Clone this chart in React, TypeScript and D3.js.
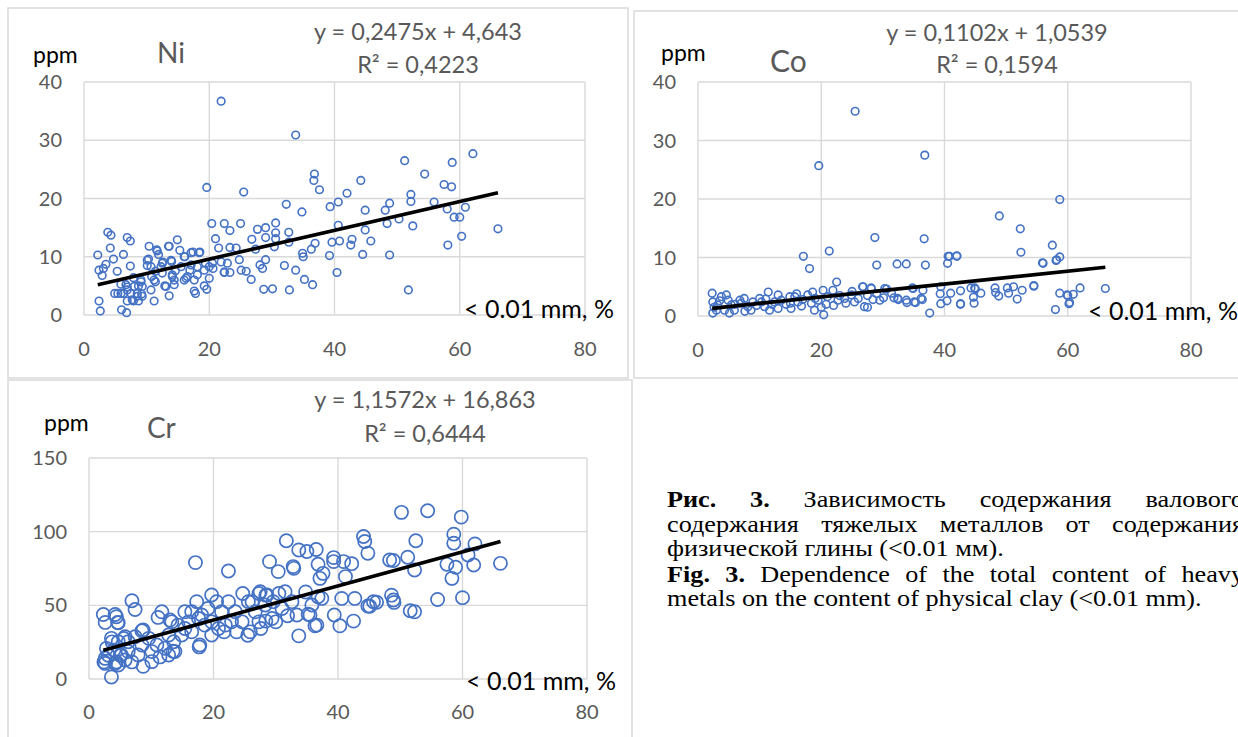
import { useEffect, useRef } from "react";
import * as d3 from "d3";

// clay content (< 0.01 mm, %) vs element content (ppm)
const niPoints: [number, number][] = [
  [21.9, 36.7], [33.8, 30.9], [62.1, 27.7], [51.2, 26.5], [58.8, 26.2], [54.4, 24.2], [36.8, 24.2], [36.7, 23.1],
  [44.2, 23.1], [57.5, 22.4], [58.7, 22.0], [19.6, 21.9], [37.6, 21.5], [25.5, 21.1], [42.0, 20.9], [52.2, 20.7],
  [52.2, 19.5], [55.9, 19.4], [40.6, 19.4], [48.8, 19.2], [32.3, 19.0], [39.3, 18.6], [60.9, 18.5], [58.0, 18.2],
  [48.1, 18.0], [44.9, 18.0], [34.8, 17.7], [59.1, 16.8], [60.0, 16.8], [50.3, 16.5], [20.4, 15.7], [22.4, 15.7],
  [25.0, 15.7], [30.6, 15.8], [48.4, 15.7], [40.6, 15.4], [52.5, 15.3], [29.0, 15.0], [27.7, 14.7], [44.9, 14.6],
  [66.1, 14.8], [23.3, 14.5], [3.8, 14.2], [4.3, 13.7], [32.7, 14.2], [30.6, 14.1], [6.9, 13.3], [7.4, 12.7],
  [14.9, 12.9], [21.0, 13.1], [26.8, 13.0], [29.0, 13.3], [40.8, 12.7], [42.8, 13.0], [45.8, 12.7], [60.3, 13.5],
  [30.6, 13.1], [32.7, 12.5], [39.6, 12.5], [10.4, 11.8], [13.5, 11.8], [21.5, 11.5], [23.3, 11.6], [24.3, 11.5],
  [36.9, 12.3], [42.6, 12.0], [58.1, 12.0], [27.4, 11.3], [30.4, 11.7], [4.2, 11.5], [36.3, 11.3], [11.6, 11.2],
  [15.3, 11.1], [2.2, 10.3], [6.3, 10.4], [34.9, 10.6], [35.0, 10.0], [39.2, 10.2], [44.5, 10.4], [48.8, 10.3],
  [11.9, 10.4], [17.4, 10.8], [18.5, 10.8], [16.1, 10.0], [24.8, 9.5], [29.0, 9.5], [4.7, 9.6], [10.3, 9.6],
  [13.9, 9.4], [3.5, 8.7], [7.4, 8.4], [10.1, 8.5], [12.5, 8.9], [19.4, 8.9], [28.1, 8.6], [32.0, 8.5],
  [2.4, 7.7], [3.1, 8.0], [5.3, 7.5], [11.4, 7.5], [14.6, 7.6], [16.9, 7.7], [20.6, 8.0], [25.1, 7.7],
  [28.5, 8.0], [33.8, 7.7], [40.4, 7.3], [2.9, 6.8], [22.4, 7.3], [23.3, 7.3], [25.9, 7.5], [7.9, 6.4],
  [10.8, 6.6], [14.1, 6.6], [16.3, 6.3], [20.0, 6.3], [26.7, 6.1], [18.1, 6.9], [35.2, 6.1], [9.1, 5.7],
  [11.4, 5.7], [5.9, 5.3], [6.9, 4.8], [12.9, 5.0], [14.4, 5.2], [19.2, 5.0], [8.7, 5.0], [36.5, 5.2],
  [19.6, 4.4], [28.7, 4.4], [30.1, 4.5], [32.8, 4.3], [51.8, 4.3], [17.6, 4.1], [17.8, 3.7], [4.9, 3.7],
  [5.4, 3.7], [6.3, 3.7], [7.5, 3.7], [9.2, 3.6], [8.5, 3.2], [13.6, 3.3], [7.9, 2.4], [8.7, 2.4],
  [6.9, 2.4], [11.2, 2.4], [2.4, 2.4], [2.6, 0.7], [6.0, 0.9], [6.8, 0.4], [13.6, 11.8], [11.7, 11.0],
  [10.1, 9.4], [12.6, 9.1], [14.0, 9.2], [16.0, 10.0], [17.1, 10.7], [18.4, 10.7], [15.5, 8.3], [17.1, 8.6],
  [18.1, 8.3], [19.2, 7.7], [20.0, 8.3], [20.5, 8.9], [16.5, 6.6], [17.6, 6.0], [16.0, 6.0], [14.1, 6.9],
  [12.5, 7.2], [11.2, 6.0], [9.1, 6.0], [8.0, 4.9], [6.9, 4.3], [5.9, 3.7], [8.5, 3.7], [9.3, 3.2],
  [7.7, 2.6], [9.3, 4.9], [6.7, 5.2], [10.7, 4.3], [13.1, 4.9], [14.4, 6.0], [12.3, 8.3], [10.7, 8.3],
  [21.9, 9.1], [22.9, 8.9], [22.4, 7.4],
];

const coPoints: [number, number][] = [
  [25.5, 35.0], [36.8, 27.5], [19.6, 25.7], [58.7, 19.9], [48.9, 17.1], [52.3, 14.9], [28.7, 13.4], [36.7, 13.2],
  [57.5, 12.1], [21.3, 11.1], [52.4, 10.9], [17.1, 10.2], [40.8, 10.2], [42.0, 10.2], [58.7, 10.1], [58.2, 9.6],
  [18.1, 8.1], [29.0, 8.7], [32.3, 8.9], [33.8, 8.9], [36.9, 8.7], [40.5, 9.0], [56.0, 9.0], [22.5, 5.8],
  [26.7, 5.0], [28.1, 4.8], [30.6, 4.6], [48.2, 4.8], [50.2, 4.8], [51.2, 5.0], [54.5, 5.1], [62.0, 4.8],
  [66.1, 4.7], [44.3, 4.8], [44.9, 4.8], [34.8, 4.8], [39.4, 5.0], [52.6, 4.4], [42.6, 4.3], [45.9, 3.9],
  [48.3, 4.0], [48.8, 3.4], [58.7, 3.9], [60.9, 3.7], [60.0, 3.5], [39.3, 3.8], [41.0, 3.9], [44.7, 3.2],
  [51.8, 2.9], [36.4, 2.8], [33.9, 2.3], [35.3, 2.3], [39.4, 2.1], [40.4, 2.6], [42.6, 2.0], [44.8, 2.2],
  [60.2, 2.1], [58.0, 1.1], [37.6, 0.5], [20.4, 0.2], [27.5, 1.5], [30.1, 3.1], [31.8, 3.1], [32.5, 2.8],
  [28.4, 2.8], [2.3, 3.9], [2.4, 2.4], [2.4, 0.5], [3.0, 1.0], [3.8, 3.3], [4.6, 3.6], [4.9, 2.7],
  [5.4, 1.9], [4.3, 1.0], [6.8, 2.7], [7.0, 2.2], [5.9, 1.0], [8.1, 1.6], [8.6, 1.0], [10.0, 3.0],
  [10.3, 2.4], [11.4, 4.1], [10.8, 1.6], [12.4, 2.4], [13.5, 2.7], [14.3, 2.0], [13.0, 1.3], [14.9, 3.3],
  [15.7, 3.3], [16.2, 2.4], [16.8, 1.7], [17.8, 3.6], [18.6, 4.1], [18.4, 2.2], [19.5, 2.7], [20.3, 4.4],
  [20.8, 2.0], [21.9, 4.4], [22.7, 2.7], [23.8, 3.0], [24.9, 3.6], [25.4, 2.4], [26.8, 5.0], [27.0, 1.6],
  [28.1, 4.7], [29.5, 2.7], [30.3, 4.7], [31.4, 3.9], [32.4, 3.0], [33.8, 2.7], [34.9, 4.7], [35.1, 2.4],
  [36.2, 3.0], [36.5, 4.4], [13.0, 3.6], [8.9, 2.4], [3.2, 1.9], [5.1, 0.5], [7.6, 0.8], [11.6, 1.0],
  [15.1, 1.3], [18.9, 1.0], [6.0, 2.0], [9.5, 1.8], [12.0, 2.0], [15.0, 2.2], [17.0, 2.8], [19.0, 3.0],
  [21.0, 3.3], [23.0, 3.5], [24.0, 2.2], [26.0, 3.0], [27.5, 3.5], [29.0, 3.8], [2.6, 1.5], [3.5, 2.6],
  [7.5, 3.0], [11.0, 2.9], [16.0, 3.8], [20.0, 1.5], [22.0, 1.8], [25.0, 4.2], [40.6, 10.2], [42.0, 10.3],
  [55.9, 9.1], [58.1, 9.5], [45.0, 4.6], [50.4, 3.9], [54.5, 5.2], [59.9, 3.6], [60.3, 2.3], [42.6, 2.1],
];

const crPoints: [number, number][] = [
  [50.2, 113.1], [54.4, 114.2], [59.8, 109.9], [44.1, 96.7], [44.3, 93.3], [44.8, 85.4], [31.7, 93.8], [52.5, 93.8],
  [58.6, 98.3], [58.6, 92.2], [62.0, 91.7], [60.9, 84.2], [33.7, 87.6], [35.0, 86.5], [36.5, 87.9], [51.2, 82.6],
  [39.3, 82.4], [39.3, 79.7], [40.9, 79.7], [42.2, 78.3], [48.3, 80.8], [48.9, 80.4], [66.1, 78.5], [29.0, 79.7],
  [17.1, 79.0], [22.4, 73.3], [30.4, 72.9], [32.8, 76.3], [32.9, 75.1], [36.8, 77.9], [37.6, 71.7], [37.1, 68.3],
  [41.2, 69.5], [57.5, 77.9], [58.9, 75.8], [58.3, 68.3], [52.3, 74.0], [61.8, 77.4], [6.9, 53.1], [7.4, 47.2],
  [2.3, 43.8], [2.6, 38.4], [4.2, 43.8], [4.6, 38.4], [24.7, 58.0], [27.3, 58.0], [28.4, 56.9], [30.5, 58.0],
  [34.8, 59.1], [36.8, 55.8], [40.6, 54.7], [42.7, 54.7], [45.7, 52.4], [44.8, 49.5], [48.6, 56.9], [48.9, 53.6],
  [56.0, 54.0], [60.0, 55.2], [51.6, 46.3], [52.3, 45.6], [39.4, 43.4], [42.5, 39.3], [40.3, 36.1], [36.3, 36.1],
  [35.2, 44.0], [33.7, 29.3], [31.9, 42.9], [30.0, 38.8], [28.4, 39.3], [27.6, 34.3], [25.5, 29.7], [21.7, 32.0],
  [17.7, 21.8], [8.5, 32.7], [8.7, 8.6], [3.6, 1.4], [2.4, 11.6], [3.1, 16.1], [4.0, 19.5], [5.0, 16.1],
  [4.4, 11.6], [5.6, 27.5], [3.7, 25.2], [11.1, 41.8], [13.0, 40.0], [6.9, 11.6], [11.4, 15.0], [13.5, 18.8],
  [4.4, 42.3], [4.7, 38.2], [3.6, 27.6], [2.8, 20.8], [4.7, 25.3], [5.8, 28.7], [7.4, 28.7], [8.7, 33.3],
  [2.6, 14.0], [4.2, 10.6], [5.2, 16.3], [6.3, 18.6], [7.9, 16.3], [10.1, 18.6], [10.9, 23.1], [12.2, 20.8],
  [13.6, 25.3], [13.8, 18.6], [14.9, 29.9], [15.4, 45.6], [16.0, 38.8], [16.5, 32.0], [17.3, 52.5], [17.8, 23.1],
  [18.1, 43.4], [19.1, 47.9], [19.7, 57.0], [19.7, 38.8], [20.5, 52.5], [20.8, 34.3], [21.3, 45.6], [22.9, 38.8],
  [23.7, 32.0], [25.6, 52.5], [25.9, 32.0], [26.7, 45.6], [27.5, 59.2], [28.3, 50.2], [29.4, 41.1], [31.0, 47.9],
  [31.5, 59.2], [32.6, 52.5], [35.8, 50.2], [35.5, 43.4], [36.6, 36.6], [33.4, 43.4], [37.4, 54.7], [11.7, 45.6],
  [13.3, 38.8], [14.3, 36.6], [15.4, 34.3], [16.5, 45.6], [17.6, 41.1], [18.6, 36.6], [19.7, 29.9], [21.9, 36.6],
  [22.4, 52.5], [23.5, 45.6], [24.6, 38.8], [26.2, 52.5], [27.3, 38.8], [28.6, 57.0], [29.6, 52.5], [12.8, 29.9],
  [9.6, 27.6], [8.5, 23.1], [6.3, 25.3], [12.8, 16.3], [10.1, 11.8], [4.7, 9.5], [5.8, 12.9], [2.6, 10.6],
  [45.1, 49.4], [46.2, 52.1], [49.0, 52.0],
];

// linear trend lines as printed on the figure: [slope, intercept]
const niFit = [0.2475, 4.643];
const coFit = [0.1102, 1.0539];
const crFit = [1.1572, 16.863];

const niLabels = ["Ni", "y = 0,2475x + 4,643", "R² = 0,4223"];
const coLabels = ["Co", "y = 0,1102x + 1,0539", "R² = 0,1594"];
const crLabels = ["Cr", "y = 1,1572x + 16,863", "R² = 0,6444"];

const xTicks = [0, 20, 40, 60, 80];
const niYTicks = [0, 10, 20, 30, 40];
const coYTicks = [0, 10, 20, 30, 40];
const crYTicks = [0, 50, 100, 150];

const yUnit = "ppm";
const xUnit = "< 0.01 mm, %";

// caption: each line is a list of [word, bold]
const captionLines: { words: [string, boolean][]; justify: boolean }[] = [
  { words: [["Рис.", true], ["3.", true], ["Зависимость", false], ["содержания", false], ["валового", false]], justify: true },
  { words: [["содержания", false], ["тяжелых", false], ["металлов", false], ["от", false], ["содержания", false]], justify: true },
  { words: [["физической", false], ["глины", false], ["(<0.01", false], ["мм).", false]], justify: false },
  { words: [["Fig.", true], ["3.", true], ["Dependence", false], ["of", false], ["the", false], ["total", false], ["content", false], ["of", false], ["heavy", false]], justify: true },
  { words: [["metals", false], ["on", false], ["the", false], ["content", false], ["of", false], ["physical", false], ["clay", false], ["(<0.01", false], ["mm).", false]], justify: false },
];

const SANS = "Lato, 'Open Sans', sans-serif";
const SERIF = "'Liberation Serif', 'Times New Roman', serif";
const GRID = "#d9d9d9";
const LABEL = "#595959";
const BLUE = "#4472c4";

const App = () => {
  const svgRef = useRef(null);

  useEffect(() => {
    document.body.style.margin = "0";
    const svg = d3.select(svgRef.current);
    svg.selectAll("*").remove();

    svg.append("rect").attr("width", 1238).attr("height", 737).attr("fill", "#fff");

    const panels = [
      {
        pts: niPoints, fit: niFit, labels: niLabels, yTicks: niYTicks, yMax: 40,
        frame: [8, 8, 628, 378], plot: [84, 585, 82, 315], r: 3.8, sw: 1.6, titleSize: 28,
        ppm: [33, 63], title: [157, 63], eqX: 418, eqY: [40, 73], unit: [464, 318], tickY: 356,
      },
      {
        pts: coPoints, fit: coFit, labels: coLabels, yTicks: coYTicks, yMax: 40,
        frame: [634, 11, 1242, 378], plot: [698, 1191, 82, 316], r: 3.8, sw: 1.6, titleSize: 30,
        ppm: [661, 61], title: [770, 72], eqX: 997, eqY: [41, 73], unit: [1088, 320], tickY: 357,
      },
      {
        pts: crPoints, fit: crFit, labels: crLabels, yTicks: crYTicks, yMax: 150,
        frame: [8, 380, 632, 742], plot: [89, 587, 458, 679], r: 6.6, sw: 1.7, titleSize: 28,
        ppm: [44, 431], title: [147, 438], eqX: 425, eqY: [408, 442], unit: [466, 690], tickY: 719,
      },
    ];

    panels.forEach((p) => {
      const g = svg.append("g");
      const [fx0, fy0, fx1, fy1] = p.frame;
      g.append("rect")
        .attr("x", fx0).attr("y", fy0)
        .attr("width", fx1 - fx0).attr("height", fy1 - fy0)
        .attr("fill", "none").attr("stroke", GRID).attr("stroke-width", 1.5);

      const [px0, px1, py0, py1] = p.plot;
      const x = d3.scaleLinear().domain([0, 80]).range([px0, px1]);
      const y = d3.scaleLinear().domain([0, p.yMax]).range([py1, py0]);

      // grid
      g.selectAll(".hg").data(p.yTicks).enter().append("line")
        .attr("x1", px0).attr("x2", px1)
        .attr("y1", (d) => y(d)).attr("y2", (d) => y(d))
        .attr("stroke", GRID).attr("stroke-width", 1.4);
      g.selectAll(".vg").data(xTicks).enter().append("line")
        .attr("y1", py0).attr("y2", py1)
        .attr("x1", (d) => x(d)).attr("x2", (d) => x(d))
        .attr("stroke", GRID).attr("stroke-width", 1.4);

      // tick labels
      g.selectAll(".yt").data(p.yTicks).enter().append("text")
        .attr("x", px0 - 22).attr("y", (d) => y(d) + 7)
        .attr("text-anchor", "end")
        .style("font-family", SANS).style("font-size", "20px").style("fill", LABEL)
        .text((d) => d);
      g.selectAll(".xt").data(xTicks).enter().append("text")
        .attr("x", (d) => x(d)).attr("y", p.tickY)
        .attr("text-anchor", "middle")
        .style("font-family", SANS).style("font-size", "20px").style("fill", LABEL)
        .text((d) => d);

      // points
      g.selectAll(".pt").data(p.pts).enter().append("circle")
        .attr("cx", (d) => x(d[0])).attr("cy", (d) => y(d[1]))
        .attr("r", p.r)
        .attr("fill", "none").attr("stroke", BLUE).attr("stroke-width", p.sw);

      // trend line over the data range
      const [xmin, xmax] = d3.extent(p.pts, (d) => d[0]) as [number, number];
      const line = d3.line<number>().x((d) => x(d)).y((d) => y(p.fit[0] * d + p.fit[1]));
      g.append("path")
        .attr("d", line([xmin, xmax]))
        .attr("fill", "none").attr("stroke", "#000").attr("stroke-width", 3.6);

      // texts
      g.append("text").attr("x", p.ppm[0]).attr("y", p.ppm[1])
        .style("font-family", SANS).style("font-size", "23px").style("fill", "#000")
        .text(yUnit);
      g.append("text").attr("x", p.title[0]).attr("y", p.title[1])
        .style("font-family", SANS).style("font-size", `${p.titleSize}px`).style("fill", LABEL)
        .text(p.labels[0]);
      g.append("text").attr("x", p.eqX).attr("y", p.eqY[0])
        .attr("text-anchor", "middle")
        .style("font-family", SANS).style("font-size", "23.5px").style("fill", LABEL)
        .text(p.labels[1]);
      g.append("text").attr("x", p.eqX).attr("y", p.eqY[1])
        .attr("text-anchor", "middle")
        .style("font-family", SANS).style("font-size", "23.5px").style("fill", LABEL)
        .text(p.labels[2]);
      g.append("text").attr("x", p.unit[0]).attr("y", p.unit[1])
        .style("font-family", SANS).style("font-size", "25px").style("fill", "#000")
        .text(xUnit);
    });

    // caption, justified like the paper layout (glyphs a little wide in the scan)
    const capLeft = 667;
    const capRight = 1244;
    const sx = 1.14;
    const baselines = [507, 532, 556, 582, 606];
    const cap = svg.append("g")
      .attr("transform", `translate(${capLeft},0) scale(${sx},1)`)
      .style("font-family", SERIF).style("font-size", "23px").style("fill", "#000");
    const span = (capRight - capLeft) / sx;
    captionLines.forEach((ln, i) => {
      const nodes = ln.words.map(([w, b]) =>
        cap.append("text").attr("y", baselines[i]).style("font-weight", b ? "bold" : "normal").text(w)
      );
      const widths = nodes.map((n) => (n.node() as SVGTextElement).getComputedTextLength());
      const total = d3.sum(widths);
      const gap = ln.justify ? (span - total) / (nodes.length - 1) : 5.75;
      let cx = 0;
      nodes.forEach((n, k) => {
        n.attr("x", cx);
        cx += widths[k] + gap;
      });
    });
  }, []);

  return <svg ref={svgRef} width={1238} height={737} style={{ display: "block" }} />;
};

export default App;
